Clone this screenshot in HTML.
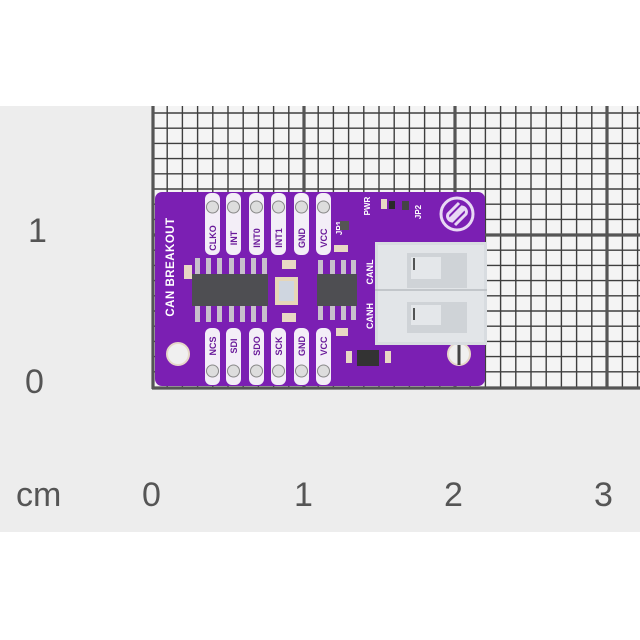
<!DOCTYPE html>
<html><head><meta charset="utf-8"><style>
html,body{margin:0;padding:0;background:#fff;}
svg{display:block;}
</style></head><body>
<svg width="640" height="640" viewBox="0 0 640 640" xmlns="http://www.w3.org/2000/svg" font-family="Liberation Sans, sans-serif">
<rect x="0" y="0" width="640" height="640" fill="#fff"/>
<rect x="0" y="106" width="640" height="426" fill="#ededed"/>
<rect x="152" y="106" width="488" height="283" fill="#f4f4f4"/>
<g stroke="#3e3e3e" stroke-width="1.4">
<!-- minor verticals -->
<g id="v">
<line x1="167.2" y1="106" x2="167.2" y2="389"/><line x1="182.4" y1="106" x2="182.4" y2="389"/><line x1="197.6" y1="106" x2="197.6" y2="389"/><line x1="212.8" y1="106" x2="212.8" y2="389"/><line x1="228" y1="106" x2="228" y2="389"/><line x1="243.2" y1="106" x2="243.2" y2="389"/><line x1="258.4" y1="106" x2="258.4" y2="389"/><line x1="273.6" y1="106" x2="273.6" y2="389"/><line x1="288.8" y1="106" x2="288.8" y2="389"/>
<line x1="318.2" y1="106" x2="318.2" y2="389"/><line x1="333.4" y1="106" x2="333.4" y2="389"/><line x1="348.6" y1="106" x2="348.6" y2="389"/><line x1="363.8" y1="106" x2="363.8" y2="389"/><line x1="379" y1="106" x2="379" y2="389"/><line x1="394.2" y1="106" x2="394.2" y2="389"/><line x1="409.4" y1="106" x2="409.4" y2="389"/><line x1="424.6" y1="106" x2="424.6" y2="389"/><line x1="439.8" y1="106" x2="439.8" y2="389"/>
<line x1="470.2" y1="106" x2="470.2" y2="389"/><line x1="485.4" y1="106" x2="485.4" y2="389"/><line x1="500.6" y1="106" x2="500.6" y2="389"/><line x1="515.8" y1="106" x2="515.8" y2="389"/><line x1="531" y1="106" x2="531" y2="389"/><line x1="546.2" y1="106" x2="546.2" y2="389"/><line x1="561.4" y1="106" x2="561.4" y2="389"/><line x1="576.6" y1="106" x2="576.6" y2="389"/><line x1="591.8" y1="106" x2="591.8" y2="389"/>
<line x1="622.4" y1="106" x2="622.4" y2="389"/><line x1="637.6" y1="106" x2="637.6" y2="389"/>
</g>
<g>
<line x1="152" y1="113" x2="640" y2="113"/><line x1="152" y1="128.2" x2="640" y2="128.2"/><line x1="152" y1="143.4" x2="640" y2="143.4"/><line x1="152" y1="158.6" x2="640" y2="158.6"/><line x1="152" y1="173.8" x2="640" y2="173.8"/><line x1="152" y1="189" x2="640" y2="189"/><line x1="152" y1="204.2" x2="640" y2="204.2"/><line x1="152" y1="219.4" x2="640" y2="219.4"/>
<line x1="152" y1="250.2" x2="640" y2="250.2"/><line x1="152" y1="265.4" x2="640" y2="265.4"/><line x1="152" y1="280.6" x2="640" y2="280.6"/><line x1="152" y1="295.8" x2="640" y2="295.8"/><line x1="152" y1="311" x2="640" y2="311"/><line x1="152" y1="326.2" x2="640" y2="326.2"/><line x1="152" y1="341.4" x2="640" y2="341.4"/><line x1="152" y1="356.6" x2="640" y2="356.6"/><line x1="152" y1="371.8" x2="640" y2="371.8"/>
</g>
</g>
<g stroke="#555" stroke-width="3.2">
<line x1="153" y1="106" x2="153" y2="389"/><line x1="304" y1="106" x2="304" y2="389"/><line x1="455" y1="106" x2="455" y2="389"/><line x1="607" y1="106" x2="607" y2="389"/>
<line x1="152" y1="235" x2="640" y2="235"/><line x1="152" y1="388" x2="640" y2="388"/>
</g>
<g fill="#555" font-size="34">
<text x="28" y="242">1</text><text x="25" y="393">0</text>
<text x="16" y="506">cm</text><text x="142" y="506">0</text><text x="294" y="506">1</text><text x="444" y="506">2</text><text x="594" y="506">3</text>
</g>

<!-- PCB -->
<rect x="155" y="192" width="330" height="194" rx="7" fill="#7b1fb3"/>
<!-- mounting holes -->
<circle cx="178" cy="354" r="11" fill="#f0f0f0" stroke="#e6d8c8" stroke-width="2"/>
<circle cx="459" cy="354" r="11" fill="#f0f0f0" stroke="#e6d8c8" stroke-width="2"/>
<line x1="459" y1="343" x2="459" y2="365" stroke="#444" stroke-width="3"/>
<!-- pads top -->
<g fill="#f3eef7">
<rect x="205" y="193" width="15" height="62" rx="6"/><rect x="226" y="193" width="15" height="62" rx="6"/><rect x="249" y="193" width="15" height="62" rx="6"/><rect x="271" y="193" width="15" height="62" rx="6"/><rect x="294" y="193" width="15" height="62" rx="6"/><rect x="316" y="193" width="15" height="62" rx="6"/>
<rect x="205" y="328" width="15" height="57" rx="6"/><rect x="226" y="328" width="15" height="57" rx="6"/><rect x="249" y="328" width="15" height="57" rx="6"/><rect x="271" y="328" width="15" height="57" rx="6"/><rect x="294" y="328" width="15" height="57" rx="6"/><rect x="316" y="328" width="15" height="57" rx="6"/>
</g>
<g fill="#ddd" stroke="#888" stroke-width="1">
<circle cx="212.5" cy="207" r="6"/><circle cx="233.5" cy="207" r="6"/><circle cx="256.5" cy="207" r="6"/><circle cx="278.5" cy="207" r="6"/><circle cx="301.5" cy="207" r="6"/><circle cx="323.5" cy="207" r="6"/>
<circle cx="212.5" cy="371" r="6"/><circle cx="233.5" cy="371" r="6"/><circle cx="256.5" cy="371" r="6"/><circle cx="278.5" cy="371" r="6"/><circle cx="301.5" cy="371" r="6"/><circle cx="323.5" cy="371" r="6"/>
</g>
<g fill="#6a1a9a" font-size="9" font-weight="bold" text-anchor="middle">
<text transform="translate(216,238) rotate(-90)">CLKO</text>
<text transform="translate(237,238) rotate(-90)">INT</text>
<text transform="translate(260,238) rotate(-90)">INT0</text>
<text transform="translate(282,238) rotate(-90)">INT1</text>
<text transform="translate(305,238) rotate(-90)">GND</text>
<text transform="translate(327,238) rotate(-90)">VCC</text>
<text transform="translate(216,346) rotate(-90)">NCS</text>
<text transform="translate(237,346) rotate(-90)">SDI</text>
<text transform="translate(260,346) rotate(-90)">SDO</text>
<text transform="translate(282,346) rotate(-90)">SCK</text>
<text transform="translate(305,346) rotate(-90)">GND</text>
<text transform="translate(327,346) rotate(-90)">VCC</text>
</g>
<g fill="#fff" font-weight="bold" text-anchor="middle">
<text transform="translate(174,267) rotate(-90)" font-size="11.5" letter-spacing="0.5">CAN BREAKOUT</text>
<text transform="translate(373,272) rotate(-90)" font-size="9">CANL</text>
<text transform="translate(373,316) rotate(-90)" font-size="9">CANH</text>
<text transform="translate(370,206) rotate(-90)" font-size="8">PWR</text>
<text transform="translate(342,228) rotate(-90)" font-size="8">JP1</text>
<text transform="translate(421,212) rotate(-90)" font-size="8">JP2</text>
</g>
<!-- chips -->
<g fill="#c8c0cc">
<rect x="195" y="258" width="5" height="18"/><rect x="206" y="258" width="5" height="18"/><rect x="217" y="258" width="5" height="18"/><rect x="229" y="258" width="5" height="18"/><rect x="240" y="258" width="5" height="18"/><rect x="251" y="258" width="5" height="18"/><rect x="262" y="258" width="5" height="18"/>
<rect x="195" y="304" width="5" height="18"/><rect x="206" y="304" width="5" height="18"/><rect x="217" y="304" width="5" height="18"/><rect x="229" y="304" width="5" height="18"/><rect x="240" y="304" width="5" height="18"/><rect x="251" y="304" width="5" height="18"/><rect x="262" y="304" width="5" height="18"/>
<rect x="318" y="260" width="5" height="16"/><rect x="330" y="260" width="5" height="16"/><rect x="341" y="260" width="5" height="16"/><rect x="351" y="260" width="5" height="16"/>
<rect x="318" y="304" width="5" height="16"/><rect x="330" y="304" width="5" height="16"/><rect x="341" y="304" width="5" height="16"/><rect x="351" y="304" width="5" height="16"/>
</g>
<rect x="192" y="274" width="76" height="32" fill="#4e4e52"/>
<rect x="317" y="274" width="40" height="32" fill="#4e4e52"/>
<rect x="275" y="277" width="23" height="28" fill="#e6d6b8"/>
<rect x="279" y="281" width="15" height="20" fill="#cfd6e0"/>
<!-- small components -->
<g fill="#e8d8c4">
<rect x="282" y="260" width="14" height="9"/><rect x="282" y="313" width="14" height="9"/>
<rect x="184" y="265" width="8" height="14"/><rect x="334" y="245" width="14" height="7"/>
<rect x="336" y="328" width="12" height="8"/><rect x="381" y="199" width="6" height="10"/>
<rect x="346" y="351" width="6" height="12"/><rect x="385" y="351" width="6" height="12"/>
</g>
<rect x="357" y="350" width="22" height="16" fill="#333"/>
<rect x="389" y="201" width="6" height="8" fill="#2a2a2a"/>
<rect x="402" y="201" width="7" height="9" fill="#444"/>
<rect x="340" y="221" width="9" height="9" fill="#555"/>
<!-- logo -->
<g fill="none" stroke="#e8d8f4" stroke-width="3">
<circle cx="457" cy="214" r="16"/>
<path d="M449 220 L462 207 A5 5 0 0 1 466 214 L455 225 M465 208 L452 221 A5 5 0 0 1 448 214 L459 203"/>
</g>
<!-- terminal block -->
<rect x="375" y="242" width="112" height="103" fill="#d8dce0"/>
<rect x="378" y="245" width="106" height="97" fill="#e2e5e8"/>
<line x1="375" y1="290" x2="487" y2="290" stroke="#b8bcc0" stroke-width="1.5"/>
<rect x="407" y="253" width="60" height="35" fill="#cfd3d7"/>
<rect x="411" y="257" width="30" height="22" fill="#e4e7ea"/>
<rect x="407" y="302" width="60" height="31" fill="#cfd3d7"/>
<rect x="411" y="305" width="30" height="20" fill="#e4e7ea"/>
<line x1="414" y1="258" x2="414" y2="270" stroke="#222" stroke-width="1.5"/>
<line x1="414" y1="308" x2="414" y2="320" stroke="#222" stroke-width="1.5"/>
</svg>
</body></html>
